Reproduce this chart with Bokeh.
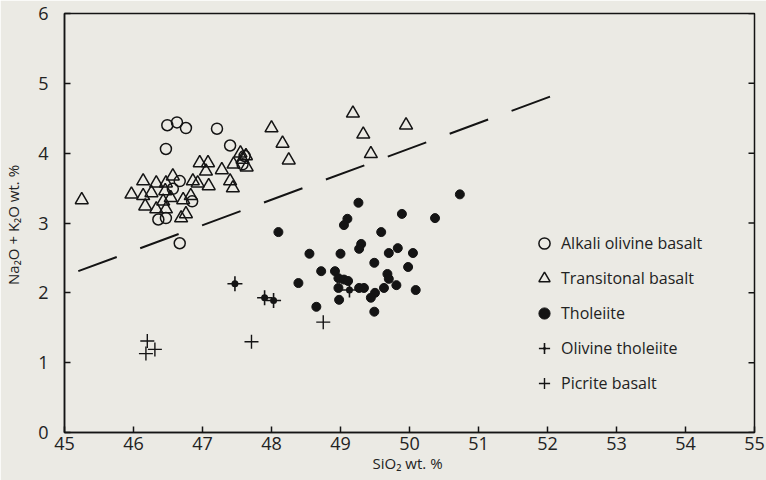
import math
from bokeh.plotting import figure
from bokeh.models import Legend, LegendItem, FixedTicker, Range1d
from bokeh.embed import file_html
from bokeh.resources import INLINE

# ---- data ----
alkali_x = [46.49, 46.63, 46.76, 47.21, 46.47, 47.40, 46.67, 46.57, 46.85, 46.36, 46.47, 46.67, 47.61, 47.58]
alkali_y = [4.40, 4.44, 4.36, 4.35, 4.06, 4.11, 3.60, 3.49, 3.31, 3.05, 3.07, 2.71, 3.96, 3.84]

trans_x = [45.25, 45.97, 46.14, 46.14, 46.17, 46.26, 46.33, 46.33, 46.43, 46.46, 46.47, 46.57, 46.54,
           46.47, 46.72, 46.76, 46.69, 46.83, 46.86, 46.93, 46.96, 47.08, 47.05, 47.09, 47.28, 47.40,
           47.44, 47.45, 47.55, 47.63, 47.64, 47.58, 48.00, 48.16, 48.25, 49.18, 49.33, 49.44, 49.95]
trans_y = [3.33, 3.41, 3.60, 3.39, 3.24, 3.43, 3.57, 3.20, 3.31, 3.46, 3.57, 3.67, 3.36,
           3.20, 3.33, 3.13, 3.07, 3.39, 3.60, 3.57, 3.86, 3.86, 3.74, 3.53, 3.76, 3.60,
           3.50, 3.84, 4.00, 3.96, 3.80, 3.91, 4.36, 4.14, 3.90, 4.57, 4.27, 3.99, 4.40]

thol_x = [49.26, 49.10, 49.05, 48.10, 49.89, 50.37, 50.73, 49.59, 49.30, 49.27, 48.55, 49.00,
          49.70, 49.83, 50.05, 49.49, 49.98, 48.72, 48.92, 48.97, 49.05, 49.11, 49.68, 49.70,
          48.39, 48.97, 49.27, 49.34, 49.63, 49.81, 50.09, 49.50, 49.44, 48.98, 48.65, 49.49]
thol_y = [3.29, 3.06, 2.97, 2.87, 3.13, 3.07, 3.41, 2.87, 2.70, 2.63, 2.56, 2.56,
          2.57, 2.64, 2.57, 2.43, 2.37, 2.31, 2.31, 2.21, 2.19, 2.17, 2.27, 2.20,
          2.14, 2.07, 2.07, 2.07, 2.07, 2.11, 2.04, 2.00, 1.93, 1.90, 1.80, 1.73]

olthol_x = [47.47, 47.90, 48.03, 49.13]
olthol_y = [2.13, 1.93, 1.89, 2.04]

picrite_x = [46.20, 46.31, 46.18, 47.71, 48.75]
picrite_y = [1.31, 1.19, 1.13, 1.30, 1.58]

divider_x = [45.2, 52.2]
divider_y = [2.31, 4.87]

x_ticks = [45, 46, 47, 48, 49, 50, 51, 52, 53, 54, 55]
y_ticks = [0, 1, 2, 3, 4, 5, 6]

legend_labels = ["Alkali olivine basalt", "Transitonal basalt", "Tholeiite",
                 "Olivine tholeiite", "Picrite basalt"]

# ---- styling ----
BG = "#ebeae4"
INK = "#141414"
FONT = "Open Sans"

p = figure(width=766, height=480, output_backend="svg", toolbar_location=None,
           x_range=Range1d(45, 55), y_range=Range1d(0, 6),
           min_border_left=61, min_border_right=12, min_border_top=13, min_border_bottom=48,
           background_fill_color=BG, border_fill_color=BG)

p.xgrid.visible = False
p.ygrid.visible = False
p.outline_line_color = INK
p.outline_line_width = 1.5

for ax in (p.xaxis[0], p.yaxis[0]):
    ax.major_tick_in = 6
    ax.major_tick_out = 0
    ax.minor_tick_in = 0
    ax.minor_tick_out = 0
    ax.axis_line_color = INK
    ax.axis_line_width = 1.5
    ax.major_tick_line_color = INK
    ax.major_tick_line_width = 1.5
    ax.major_label_text_font = FONT
    ax.major_label_text_font_size = "18px"
    ax.major_label_text_color = "#222222"
    ax.axis_label_text_font = FONT
    ax.axis_label_text_font_style = "normal"
    ax.axis_label_text_font_size = "15px"
    ax.axis_label_text_color = "#222222"

p.xaxis.ticker = FixedTicker(ticks=x_ticks)
p.yaxis.ticker = FixedTicker(ticks=y_ticks)
p.xaxis.axis_label = "SiO₂  wt. %"
p.yaxis.axis_label = "Na₂O + K₂O  wt. %"
p.xaxis.major_label_standoff = 4
p.xaxis.axis_label_standoff = 0
p.yaxis.major_label_standoff = 16
p.yaxis.axis_label_standoff = 12

# inward ticks on the right-hand frame edge, drawn through the data scales
p.ray(x=[x_ticks[-1]] * len(y_ticks), y=y_ticks, length=6, length_units="screen",
      angle=math.pi, line_color=INK, line_width=1.5)

# dashed dividing line
p.line(divider_x, divider_y, line_color=INK, line_width=2, line_dash="41 25")

r_alk = p.scatter(alkali_x, alkali_y, marker="circle", size=11, fill_color=None,
                  line_color=INK, line_width=1.5)
r_tr = p.scatter(trans_x, trans_y, marker="triangle", size=13, fill_color=None,
                 line_color=INK, line_width=1.5)
r_th = p.scatter(thol_x, thol_y, marker="circle", size=9, fill_color=INK, line_color=INK)
r_ot1 = p.scatter(olthol_x, olthol_y, marker="cross", size=15, line_color=INK, line_width=1.6)
r_ot2 = p.scatter(olthol_x, olthol_y, marker="dot", size=28, line_color=INK, fill_color=INK)
r_pc = p.scatter(picrite_x, picrite_y, marker="cross", size=14, line_color=INK, line_width=1.4)

legend = Legend(items=[
    LegendItem(label=legend_labels[0], renderers=[r_alk]),
    LegendItem(label=legend_labels[1], renderers=[r_tr]),
    LegendItem(label=legend_labels[2], renderers=[r_th]),
    LegendItem(label=legend_labels[3], renderers=[r_ot1, r_ot2]),
    LegendItem(label=legend_labels[4], renderers=[r_pc]),
], location=(466, 35), padding=0, margin=0, spacing=7,
    glyph_width=28, glyph_height=28, label_standoff=3,
    label_text_font=FONT, label_text_font_size="16px", label_text_color="#222222",
    border_line_color=None, background_fill_alpha=0.0)
p.add_layout(legend)

open("out.html", "w").write(file_html(p, INLINE))
